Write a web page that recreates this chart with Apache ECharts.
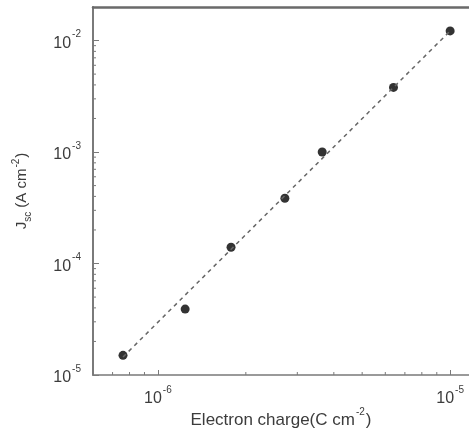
<!DOCTYPE html>
<html>
<head>
<meta charset="utf-8">
<script src="https://cdn.jsdelivr.net/npm/echarts@6/dist/echarts.min.js"></script>
<style>
html, body { margin: 0; padding: 0; background: #fff; }
#chart { width: 469px; height: 431px; }
</style>
</head>
<body>
<div id="chart"></div>
<script>
// measured points (electron charge vs Jsc)
var chargeX = [7.6e-7, 1.24e-6, 1.78e-6, 2.72e-6, 3.65e-6, 6.4e-6, 1.0e-5];
var jscY = [1.5e-5, 3.9e-5, 1.4e-4, 3.85e-4, 1.0e-3, 3.8e-3, 1.22e-2];
// dashed fit line end points
var fitX = [7.6e-7, 1.0e-5];
var fitY = [1.45e-5, 1.22e-2];
// minor tick values
var xMinor = [7e-7, 8e-7, 9e-7, 2e-6, 3e-6, 4e-6, 5e-6, 6e-6, 7e-6, 8e-6, 9e-6];
var yMinor = [2e-5, 3e-5, 4e-5, 5e-5, 6e-5, 7e-5, 8e-5, 9e-5,
              2e-4, 3e-4, 4e-4, 5e-4, 6e-4, 7e-4, 8e-4, 9e-4,
              2e-3, 3e-3, 4e-3, 5e-3, 6e-3, 7e-3, 8e-3, 9e-3];

var xMin = 6e-7, xMax = 1.16e-5;
var yMin = 1e-5, yMax = 2e-2;

var font = 'Liberation Sans, Arial, sans-serif';
var axisColor = '#7a7a7a';
var textColor = '#3c3c3c';

var chart = echarts.init(document.getElementById('chart'));

function powLabel(value) {
    var e = Math.log10(value);
    var r = Math.round(e);
    if (Math.abs(e - r) > 1e-6) return '';
    return '{b|10}{sup|' + r + '}';
}

var labelRich = {
    b: { fontSize: 16, fontFamily: font, color: textColor, lineHeight: 22, verticalAlign: 'bottom' },
    sup: { fontSize: 10, fontFamily: font, color: textColor, lineHeight: 22, verticalAlign: 'top', padding: [0, 0, 8, 1] }
};

function minorTick(dir) {
    return function (params, api) {
        var p = api.coord([api.value(0), api.value(1)]);
        var shape = dir === 'x'
            ? { x1: p[0], y1: p[1], x2: p[0], y2: p[1] - 3 }
            : { x1: p[0], y1: p[1], x2: p[0] + 3, y2: p[1] };
        return { type: 'line', shape: shape, style: { stroke: axisColor, lineWidth: 1 } };
    };
}

var option = {
    backgroundColor: '#fff',
    animation: false,
    grid: { left: 93, top: 7, right: 0, bottom: 56, outerBoundsMode: 'none', containLabel: false },
    xAxis: [
        {
            type: 'log', logBase: 10, min: xMin, max: xMax,
            name: '{n|Electron charge(C cm}{sup|-2}{n|)}',
            nameLocation: 'middle', nameGap: 32, nameMoveOverlap: false,
            nameTextStyle: {
                rich: {
                    n: { fontSize: 17, fontFamily: font, color: textColor, lineHeight: 22, verticalAlign: 'bottom' },
                    sup: { fontSize: 10, fontFamily: font, color: textColor, lineHeight: 22, verticalAlign: 'top', padding: [0, 1, 8, 1] }
                }
            },
            axisLine: { lineStyle: { color: axisColor, width: 1.5 } },
            axisTick: { inside: true, length: 5, lineStyle: { color: axisColor } },
            axisLabel: { formatter: powLabel, rich: labelRich, margin: 10, showMinLabel: false, showMaxLabel: false },
            splitLine: { show: false }
        },
        {
            type: 'log', logBase: 10, min: xMin, max: xMax, position: 'top',
            axisLine: { lineStyle: { color: '#6a6a6a', width: 2.5 } },
            axisTick: { show: false }, axisLabel: { show: false }, splitLine: { show: false }
        }
    ],
    yAxis: {
        type: 'log', logBase: 10, min: yMin, max: yMax,
        name: '{n|J}{sub|sc}{n| (A cm}{sup|-2}{n|)}',
        nameLocation: 'middle', nameGap: 60, nameRotate: 90, nameMoveOverlap: false,
        nameTextStyle: {
            rich: {
                n: { fontSize: 15, fontFamily: font, color: textColor, lineHeight: 22, verticalAlign: 'middle' },
                sub: { fontSize: 10, fontFamily: font, color: textColor, lineHeight: 22, verticalAlign: 'bottom', padding: [6, 0, 0, 0] },
                sup: { fontSize: 10, fontFamily: font, color: textColor, lineHeight: 22, verticalAlign: 'top', padding: [0, 1, 8, 1] }
            }
        },
        axisLine: { lineStyle: { color: axisColor, width: 2 } },
        axisTick: { inside: true, length: 6, lineStyle: { color: axisColor } },
        axisLabel: { formatter: powLabel, rich: labelRich, margin: 12, showMinLabel: true, showMaxLabel: false },
        splitLine: { show: false }
    },
    series: [
        {
            type: 'line',
            data: fitX.map(function (x, i) { return [x, fitY[i]]; }),
            symbol: 'none',
            lineStyle: { color: '#666', width: 1.5, type: [4, 4] },
            silent: true
        },
        {
            type: 'scatter',
            data: chargeX.map(function (x, i) { return [x, jscY[i]]; }),
            symbol: 'circle', symbolSize: 9,
            itemStyle: { color: '#000' }
        },
        {
            type: 'custom', silent: true,
            data: xMinor.map(function (v) { return [v, yMin]; }),
            renderItem: minorTick('x')
        },
        {
            type: 'custom', silent: true,
            data: yMinor.map(function (v) { return [xMin, v]; }),
            renderItem: minorTick('y')
        }
    ]
};

chart.setOption(option);
window.onresize = chart.resize;
</script>
</body>
</html>
